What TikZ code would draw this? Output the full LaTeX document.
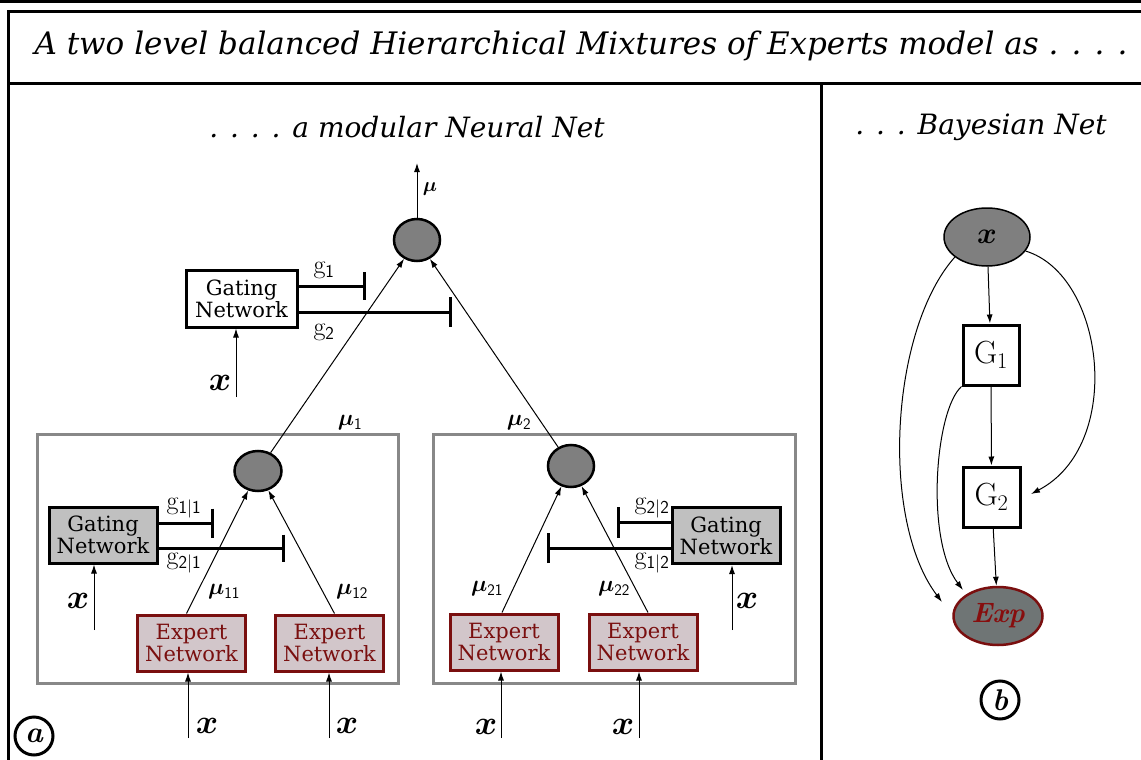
\RequirePackage{fix-cm}
\documentclass[tikz,border=0pt]{standalone}
\usepackage{amsmath,bm}
\usepackage{fontspec}
\newfontfamily\boxfont{DejaVu Serif}
\newfontfamily\headfont{DejaVu Serif}
\usetikzlibrary{arrows.meta,shapes.geometric}
\definecolor{sumgray}{HTML}{7F7F7F}
\definecolor{gategray}{HTML}{C0C0C0}
\definecolor{boxgray}{HTML}{888888}
\definecolor{expred}{HTML}{7A0F0F}
\definecolor{expfill}{HTML}{D2C6CA}
\definecolor{expnode}{HTML}{6F7575}
\begin{document}
\begin{tikzpicture}[x=1pt,y=-1pt,
  arr/.style={line width=1pt,-{Latex[length=9pt,width=6pt]}},
  gate/.style={line width=3pt,-{Bar[width=#1]}},
  gate/.default=29pt,
  sumnode/.style={ellipse,draw,line width=2.5pt,fill=sumgray,minimum width=46pt,minimum height=42pt,inner sep=0pt},
  gatebox/.style={rectangle,draw,line width=3pt,minimum width=108pt,minimum height=56pt,inner sep=0pt,align=center,font=\boxfont\fontsize{21}{22}\selectfont},
  expbox/.style={gatebox,draw=expred,fill=expfill,text=expred},
  modbox/.style={rectangle,draw=boxgray,line width=3pt,inner sep=0pt},
  xlab/.style={inner sep=0pt,font=\fontsize{34}{34}\selectfont},
  mulab/.style={inner sep=0pt,font=\fontsize{23}{23}\selectfont},
  glab/.style={inner sep=0pt,font=\fontsize{26}{26}\selectfont},
  heading/.style={inner sep=0pt,font=\headfont\itshape\fontsize{31}{31}\selectfont},
  subhead/.style={inner sep=0pt,font=\headfont\itshape\fontsize{28}{28}\selectfont},
  circlab/.style={circle,draw,line width=3pt,minimum size=38pt,inner sep=0pt,font=\bfseries\itshape\fontsize{30}{30}\selectfont},
  bnode/.style={rectangle,draw,line width=3pt,fill=white,minimum width=56pt,minimum height=60pt,inner sep=0pt,font=\fontsize{32}{32}\selectfont}
]
\useasboundingbox (0,0) rectangle (1141,760);
% frame
\fill (0,0) rectangle (1141,3);
\draw[line width=3pt] (8.5,760) -- (8.5,11.5) -- (1141,11.5);
\draw[line width=3pt] (8.5,84) -- (1141,84);
\draw[line width=3pt] (821,84) -- (821,760);
% headings
\node[heading] (title) at (581,46) {A two level balanced Hierarchical Mixtures of Experts model as . . . .};
\node[subhead] (st1) at (407,127) {. . . . a modular Neural Net};
\node[subhead] (st2) at (981,127) {. . . Bayesian Net};
% module boxes
\node[modbox,minimum width=361pt,minimum height=249pt] (m1) at (217.5,558.5) {};
\node[modbox,minimum width=362pt,minimum height=249pt] (m2) at (614,558.5) {};
% sum nodes
\node[sumnode] (c0) at (417,240) {};
\node[sumnode,minimum width=47pt,minimum height=40pt] (c1) at (258,471) {};
\node[sumnode] (c2) at (571,466) {};
% gating networks
\node[gatebox,fill=white,minimum width=111pt,minimum height=57pt] (g0) at (241.5,298.5) {Gating\\Network};
\node[gatebox,fill=gategray] (gL) at (103,535) {Gating\\Network};
\node[gatebox,fill=gategray] (gR) at (726,535.5) {Gating\\Network};
% experts
\node[expbox] (e11) at (191.5,643) {Expert\\Network};
\node[expbox] (e12) at (329.5,643) {Expert\\Network};
\node[expbox] (e21) at (504,642) {Expert\\Network};
\node[expbox] (e22) at (643,642) {Expert\\Network};
% gate outputs
\coordinate (b01) at (366,286);
\coordinate (b02) at (452,312);
\draw[gate=28pt] (g0.east |- b01) -- (b01);
\draw[gate=30pt] (g0.east |- b02) -- (b02);
\node[glab] (lg1) at (324,270) {$\mathrm{g}_{\mathsf{1}}$};
\node[glab] (lg2) at (324,332) {$\mathrm{g}_{\mathsf{2}}$};
\coordinate (bL1) at (214,523);
\coordinate (bL2) at (285,548);
\draw[gate] (gL.east |- bL1) -- (bL1);
\draw[gate=27pt] (gL.east |- bL2) -- (bL2);
\node[glab] (lgL1) at (184,508) {$\mathrm{g}_{\mathsf{1|1}}$};
\node[glab] (lgL2) at (184,563) {$\mathrm{g}_{\mathsf{2|1}}$};
\coordinate (bR1) at (617,522);
\coordinate (bR2) at (547,548);
\draw[gate=31pt] (gR.west |- bR1) -- (bR1);
\draw[gate=30pt] (gR.west |- bR2) -- (bR2);
\node[glab] (lgR1) at (652,508) {$\mathrm{g}_{\mathsf{2|2}}$};
\node[glab] (lgR2) at (652,563) {$\mathrm{g}_{\mathsf{1|2}}$};
% inputs
\coordinate (i0) at (236,397);
\coordinate (iL) at (94,630);
\coordinate (iR) at (732,630);
\coordinate (i11) at (188,738);
\coordinate (i12) at (329,738);
\coordinate (i21) at (501,738);
\coordinate (i22) at (639,738);
\draw[arr] (i0) -- (i0 |- g0.south);
\draw[arr] (iL) -- (iL |- gL.south);
\draw[arr] (iR) -- (iR |- gR.south);
\draw[arr] (i11) -- (i11 |- e11.south);
\draw[arr] (i12) -- (i12 |- e12.south);
\draw[arr] (i21) -- (i21 |- e21.south);
\draw[arr] (i22) -- (i22 |- e22.south);
\node[xlab] (x0) at (220,383) {$\bm{x}$};
\node[xlab] (xL) at (78,601) {$\bm{x}$};
\node[xlab] (xR) at (747,601) {$\bm{x}$};
\node[xlab] (x11) at (207,726) {$\bm{x}$};
\node[xlab] (x12) at (347,726) {$\bm{x}$};
\node[xlab] (x21) at (486,727) {$\bm{x}$};
\node[xlab] (x22) at (623,727) {$\bm{x}$};
% expert outputs
\draw[arr] ([xshift=-5pt]e11.north) -- (c1);
\draw[arr] ([xshift=5pt]e12.north) -- (c1);
\draw[arr] ([xshift=-2pt]e21.north) -- (c2);
\draw[arr] ([xshift=5pt]e22.north) -- (c2);
\node[mulab] (mu11) at (224,592) {$\bm{\mu}_{\mathsf{11}}$};
\node[mulab] (mu12) at (352,592) {$\bm{\mu}_{\mathsf{12}}$};
\node[mulab] (mu21) at (487,589) {$\bm{\mu}_{\mathsf{21}}$};
\node[mulab] (mu22) at (614,589) {$\bm{\mu}_{\mathsf{22}}$};
% level 1 outputs
\draw[arr] (c1) -- (c0);
\draw[arr] (c2) -- (c0);
\node[mulab] (mu1) at (350,423) {$\bm{\mu}_{\mathsf{1}}$};
\node[mulab] (mu2) at (519,423) {$\bm{\mu}_{\mathsf{2}}$};
\coordinate (out) at (417,163);
\draw[arr] (c0) -- (out);
\node[mulab,font=\fontsize{20}{20}\selectfont] (mu) at (430,189) {$\bm{\mu}$};
% panel labels
\node[circlab] (la) at (34,736) {a};
\node[circlab] (lb) at (1000,700) {b};
% Bayesian net
\node[ellipse,draw,line width=1.5pt,fill=sumgray,minimum width=86pt,minimum height=58pt,inner sep=0pt,font=\fontsize{30}{30}\selectfont] (bx) at (987,237) {$\bm{x}$};
\node[bnode] (G1) at (991,355) {G$_1$};
\node[bnode,minimum width=57pt] (G2) at (991.5,497) {G$_2$};
\node[ellipse,draw=expred,line width=2.5pt,fill=expnode,minimum width=89pt,minimum height=58pt,inner sep=0pt,text=expred!90!red,font=\bfseries\itshape\fontsize{28}{28}\selectfont] (Exp) at (998,616) {Exp};
\draw[arr] (bx) -- (G1);
\draw[arr] (G1) -- (G2);
\draw[arr] (G2) -- (Exp);
\coordinate (expL) at (942,602);
\coordinate (expT) at (963,590);
\coordinate (g2R) at (1031,494);
\draw[arr] (bx.212) .. controls (890,330) and (880,520) .. (expL);
\draw[arr] (G1.south west) .. controls (935,410) and (925,540) .. (expT);
\draw[arr] (bx.340) .. controls (1105,275) and (1125,445) .. (g2R);
\end{tikzpicture}
\end{document}
